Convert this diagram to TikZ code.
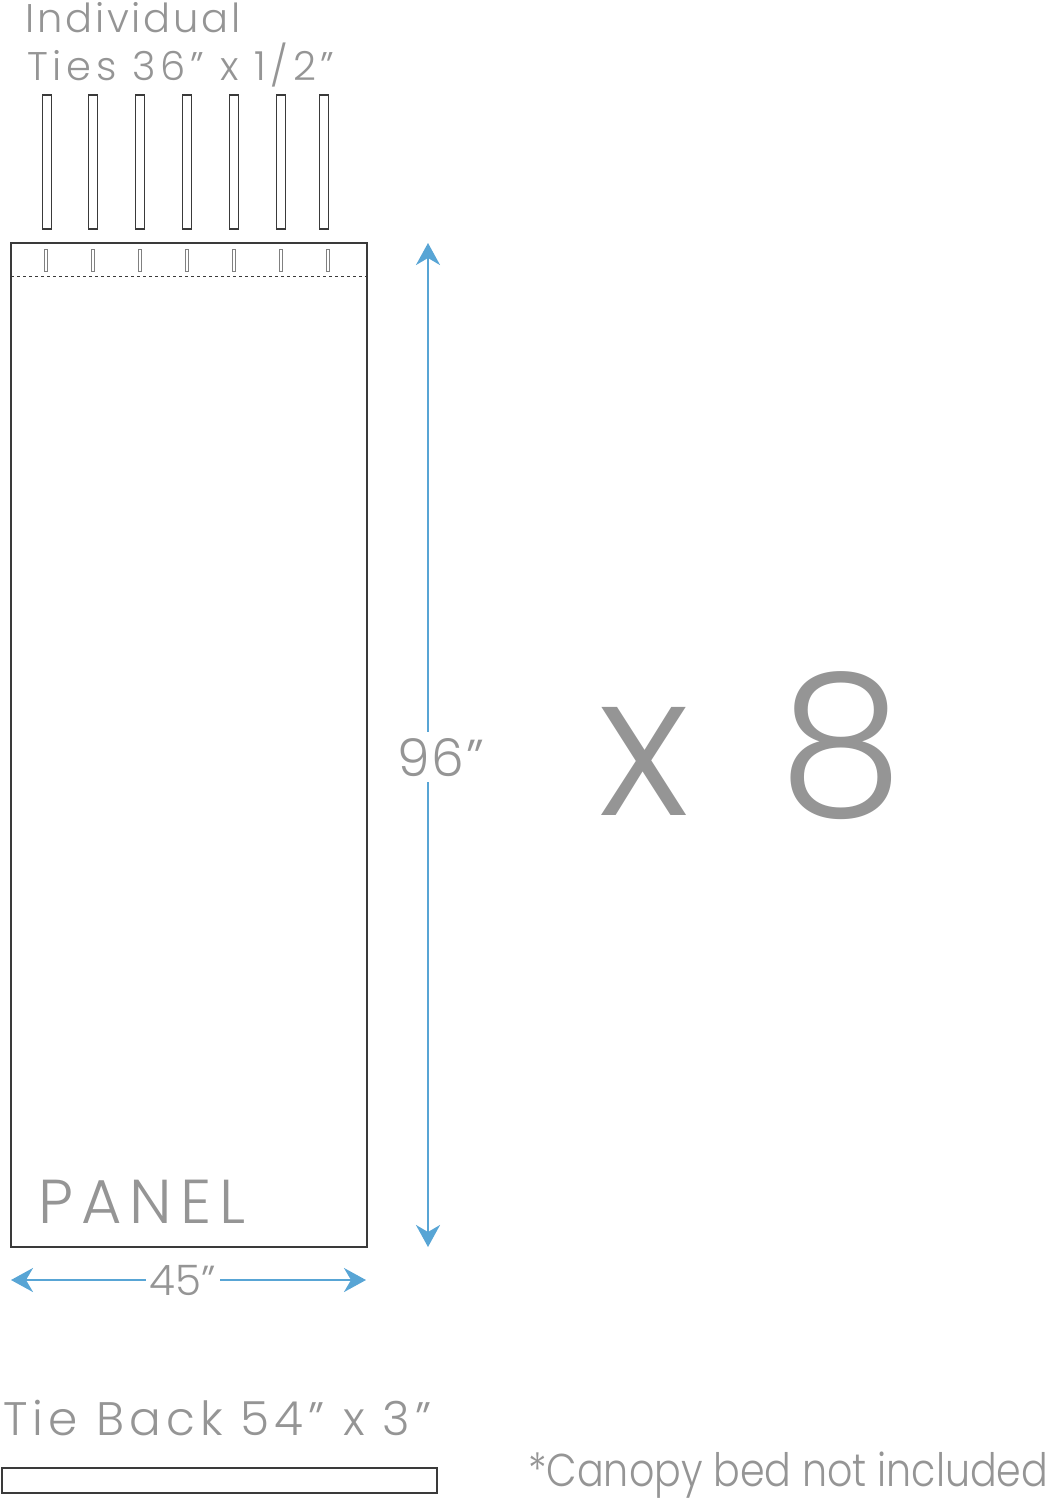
\documentclass[tikz,border=0pt]{standalone}
\usepackage{fontspec}
\setmainfont{Poppins}[UprightFont=* Light]
\usetikzlibrary{arrows.meta}
\definecolor{txtgray}{HTML}{959595}
\definecolor{dimblue}{HTML}{58A5D5}
\definecolor{edgegray}{HTML}{3A3A3A}
\tikzset{
  lbl/.style={text=txtgray, inner sep=0pt, anchor=base west},
  dimline/.style={draw=dimblue, line width=2.4pt, -{Stealth[length=22pt,width=24pt,inset=7pt]}},
  part/.style={draw=edgegray, line width=1.2pt},
}
\begin{document}
\begin{tikzpicture}[x=1pt,y=-1pt]
  \useasboundingbox (0,0) rectangle (1047,1500);
  % ties and their slits
  \foreach \tx/\sx in {47/46,93/93,140/140,187/187,234/234,281/281,324/328} {
    \draw[part] (\tx-4.5,95) rectangle (\tx+4.5,229);
    \draw[draw=gray, line width=0.8pt] (\sx-1.5,249) rectangle (\sx+1.5,271);
  }
  \node[lbl, font=\fontsize{40}{40}\selectfont\addfontfeatures{LetterSpace=7}] (ind) at (25,32) {Individual};
  \node[lbl, font=\fontsize{40}{40}\selectfont\addfontfeatures{LetterSpace=12}] (ties) at (27,80) {Ties 36” x 1/2”};
  % panel
  \draw[part] (11,243) rectangle (367,1247);
  \draw[part, line width=1pt, dash pattern=on 3pt off 3pt] (11,276) -- (367,276);
  \node[lbl, font=\fontsize{62}{62}\selectfont\addfontfeatures{LetterSpace=13}] (panel) at (38,1223) {PANEL};
  % dimensions
  \coordinate (vtop) at (428,243);
  \coordinate (vbot) at (428,1247);
  \node[text=txtgray, font=\fontsize{52}{52}\selectfont\addfontfeatures{LetterSpace=4}, text height=38pt, text depth=0pt, inner ysep=6pt, inner xsep=0pt] (h96) at (441,757) {96”};
  \draw[dimline] (h96.north -| vtop) -- (vtop);
  \draw[dimline] (h96.south -| vbot) -- (vbot);
  \coordinate (hleft) at (11,1280);
  \coordinate (hright) at (366,1280);
  \node[text=txtgray, font=\fontsize{42}{42}\selectfont, text height=30pt, text depth=0pt, inner xsep=4pt, inner ysep=0pt] (h45) at (183,1280) {45”};
  \draw[dimline] (h45.west) -- (hleft);
  \draw[dimline] (h45.east) -- (hright);
  % count
  \node[lbl, font=\fontsize{198}{198}\selectfont] (count) at (598,815) {x \hspace{36pt}8};
  % tie back
  \node[lbl, font=\fontsize{47}{47}\selectfont\addfontfeatures{LetterSpace=11}] (tieback) at (3,1435) {Tie Back 54” x 3”};
  \draw[part] (2,1468) rectangle (437,1493);
  \node[lbl, font=\fontsize{46}{46}\selectfont\addfontfeatures{FakeStretch=0.86}] (note) at (528,1486) {*Canopy bed not included};
\end{tikzpicture}
\end{document}
